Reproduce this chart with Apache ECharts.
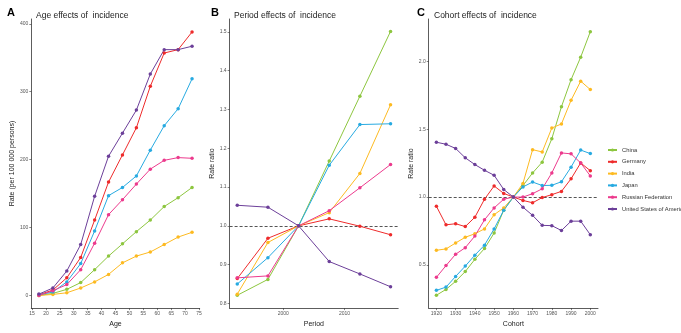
<!DOCTYPE html>
<html>
<head>
<meta charset="utf-8">
<script src="https://cdn.jsdelivr.net/npm/echarts@6/dist/echarts.min.js"></script>
<style>
  html, body { margin: 0; padding: 0; background: #fff; }
  #chart { width: 681px; height: 333px; }
</style>
</head>
<body>
<div id="chart"></div>
<script>
const countries = ['China', 'Germany', 'India', 'Japan', 'Russian Federation', 'United States of America'];
const colors = ['#8DC63F', '#EE2B2B', '#FDBA21', '#27AAE1', '#EC3A8D', '#6C3F99'];

// A: 年龄效应
const ages = [17.5, 22.5, 27.5, 32.5, 37.5, 42.5, 47.5, 52.5, 57.5, 62.5, 67.5, 72.5];
const ageChina   = [0, 3, 9, 19, 38, 58, 76, 94, 111, 131, 144, 159];
const ageGermany = [1, 8, 26, 56, 111, 167, 207, 247, 308, 357, 362, 388];
const ageIndia   = [0, 1.5, 4, 11, 20, 31, 48, 58, 64, 75, 86, 93];
const ageJapan   = [1, 5, 20, 47, 95, 147, 159, 176, 214, 250, 275, 319];
const ageRussia  = [0, 7, 16, 38, 77, 119, 141, 164, 186, 199, 203, 202];
const ageUSA     = [2, 11, 36, 75, 146, 205, 239, 273, 326, 362, 362, 367];
const ageTicksX = [15, 20, 25, 30, 35, 40, 45, 50, 55, 60, 65, 70, 75];
const ageTicksY = [0, 100, 200, 300, 400];

// B: 时期效应
const periods = [1992.5, 1997.5, 2002.5, 2007.5, 2012.5, 2017.5];
const perChina   = [0.821, 0.862, 1, 1.167, 1.334, 1.501];
const perGermany = [0.864, 0.968, 1, 1.018, 0.999, 0.977];
const perIndia   = [0.824, 0.957, 1, 1.034, 1.135, 1.312];
const perJapan   = [0.850, 0.918, 1, 1.156, 1.261, 1.263];
const perRussia  = [0.866, 0.871, 1, 1.039, 1.098, 1.158];
const perUSA     = [1.053, 1.048, 1, 0.908, 0.876, 0.843];
const perTicksX = [2000, 2010];
const perTicksY = [0.8, 0.9, 1.0, 1.1, 1.2, 1.3, 1.4, 1.5];

// C: 队列效应
const cohorts = [1920, 1925, 1930, 1935, 1940, 1945, 1950, 1955, 1960, 1965, 1970, 1975, 1980, 1985, 1990, 1995, 2000];
const cohChina   = [0.275, 0.318, 0.378, 0.45, 0.54, 0.62, 0.734, 0.903, 1, 1.085, 1.178, 1.258, 1.431, 1.667, 1.867, 2.033, 2.221];
const cohGermany = [0.932, 0.795, 0.803, 0.782, 0.851, 0.984, 1.082, 1.027, 1, 0.975, 0.958, 0.996, 1.018, 1.042, 1.135, 1.252, 1.195];
const cohIndia   = [0.607, 0.617, 0.661, 0.703, 0.729, 0.765, 0.87, 0.92, 1, 1.101, 1.35, 1.333, 1.51, 1.54, 1.715, 1.856, 1.794];
const cohJapan   = [0.311, 0.335, 0.414, 0.49, 0.571, 0.645, 0.765, 0.903, 1, 1.075, 1.111, 1.085, 1.087, 1.113, 1.221, 1.347, 1.321];
const cohRussia  = [0.407, 0.494, 0.578, 0.626, 0.712, 0.832, 0.92, 0.984, 1, 1.0, 1.025, 1.061, 1.178, 1.326, 1.319, 1.252, 1.156];
const cohUSA     = [1.405, 1.39, 1.359, 1.29, 1.24, 1.198, 1.161, 1.056, 1, 0.925, 0.865, 0.791, 0.789, 0.753, 0.822, 0.822, 0.722];
const cohTicksX = [1920, 1930, 1940, 1950, 1960, 1970, 1980, 1990, 2000];
const cohTicksY = [0.5, 1.0, 1.5, 2.0];

const ageData = [ageChina, ageGermany, ageIndia, ageJapan, ageRussia, ageUSA];
const perData = [perChina, perGermany, perIndia, perJapan, perRussia, perUSA];
const cohData = [cohChina, cohGermany, cohIndia, cohJapan, cohRussia, cohUSA];

const chart = echarts.init(document.getElementById('chart'));
const FONT = 'Liberation Sans, Arial, sans-serif';
const axisCol = '#333';

function xAx(grid, min, max, ticks, name) {
    return {
        type: 'value', gridIndex: grid, min: min, max: max,
        name: name, nameLocation: 'middle', nameGap: 11,
        nameTextStyle: { fontFamily: FONT, fontSize: 7, color: '#222' },
        axisLine: { show: true, onZero: false, lineStyle: { color: axisCol, width: 0.8 } },
        axisTick: { show: true, length: 2, customValues: ticks, lineStyle: { color: axisCol, width: 0.6 } },
        axisLabel: { customValues: ticks, fontFamily: FONT, fontSize: 5, color: '#555', margin: 3, formatter: v => String(v) },
        splitLine: { show: false }
    };
}

function yAx(grid, min, max, ticks, fmt) {
    return {
        type: 'value', gridIndex: grid, min: min, max: max,
        name: grid === 0 ? 'Rate (per 100 000 persons)' : 'Rate ratio',
        nameLocation: 'middle', nameGap: 12, nameRotate: 90,
        nameTextStyle: { fontFamily: FONT, fontSize: 7, color: '#222' },
        axisLine: { show: true, onZero: false, lineStyle: { color: axisCol, width: 0.8 } },
        axisTick: { show: true, length: 2, customValues: ticks, lineStyle: { color: axisCol, width: 0.6 } },
        axisLabel: { customValues: ticks, fontFamily: FONT, fontSize: 5, color: '#555', margin: 3, formatter: fmt },
        splitLine: { show: false }
    };
}

const series = [];
[[ages, ageData], [periods, perData], [cohorts, cohData]].forEach(([xs, sets], g) => {
    sets.forEach((vals, i) => {
        const s = {
            name: countries[i], type: 'line',
            xAxisIndex: g, yAxisIndex: g,
            data: xs.map((x, k) => [x, vals[k]]),
            symbol: 'circle', symbolSize: 3.5,
            lineStyle: { width: 1, color: colors[i] },
            itemStyle: { color: colors[i] },
            emphasis: { disabled: true },
            z: 3
        };
        if (g > 0 && i === 0) {
            s.markLine = {
                silent: true, symbol: 'none', label: { show: false },
                lineStyle: { type: [3, 2], color: '#555', width: 1 },
                data: [{ yAxis: 1 }],
                z: 1
            };
        }
        series.push(s);
    });
});

const option = {
    animation: false,
    color: colors,
    textStyle: { fontFamily: FONT },
    title: [
        { text: 'A', left: 2, top: 2, textStyle: { fontSize: 11, fontWeight: 'bold', color: '#000', fontFamily: FONT } },
        { text: 'B', left: 206, top: 2, textStyle: { fontSize: 11, fontWeight: 'bold', color: '#000', fontFamily: FONT } },
        { text: 'C', left: 412, top: 2, textStyle: { fontSize: 11, fontWeight: 'bold', color: '#000', fontFamily: FONT } },
        { text: 'Age effects of  incidence', left: 31, top: 6, textStyle: { fontSize: 8.5, fontWeight: 'normal', color: '#222', fontFamily: FONT } },
        { text: 'Period effects of  incidence', left: 229, top: 6, textStyle: { fontSize: 8.5, fontWeight: 'normal', color: '#222', fontFamily: FONT } },
        { text: 'Cohort effects of  incidence', left: 429, top: 6, textStyle: { fontSize: 8.5, fontWeight: 'normal', color: '#222', fontFamily: FONT } }
    ],
    legend: {
        data: countries,
        orient: 'vertical', left: 602, top: 142,
        itemWidth: 9, itemHeight: 4, itemGap: 5.8,
        textStyle: { fontFamily: FONT, fontSize: 5.8, color: '#333' }
    },
    grid: [
        { left: 31.3, right: 481.3, top: 19, bottom: 16 },
        { left: 229.6, right: 282.8, top: 19, bottom: 16 },
        { left: 428.7, right: 83, top: 19, bottom: 16 }
    ],
    xAxis: [
        xAx(0, 14.75, 75.25, ageTicksX, 'Age'),
        xAx(1, 1991.25, 2018.75, perTicksX, 'Period'),
        xAx(2, 1916, 2004, cohTicksX, 'Cohort')
    ],
    yAxis: [
        yAx(0, -18.6, 407.1, ageTicksY, v => String(Math.round(v))),
        yAx(1, 0.788, 1.533, perTicksY, v => v.toFixed(1)),
        yAx(2, 0.18, 2.315, cohTicksY, v => v.toFixed(1))
    ],
    series: series
};

chart.setOption(option);
</script>
</body>
</html>
